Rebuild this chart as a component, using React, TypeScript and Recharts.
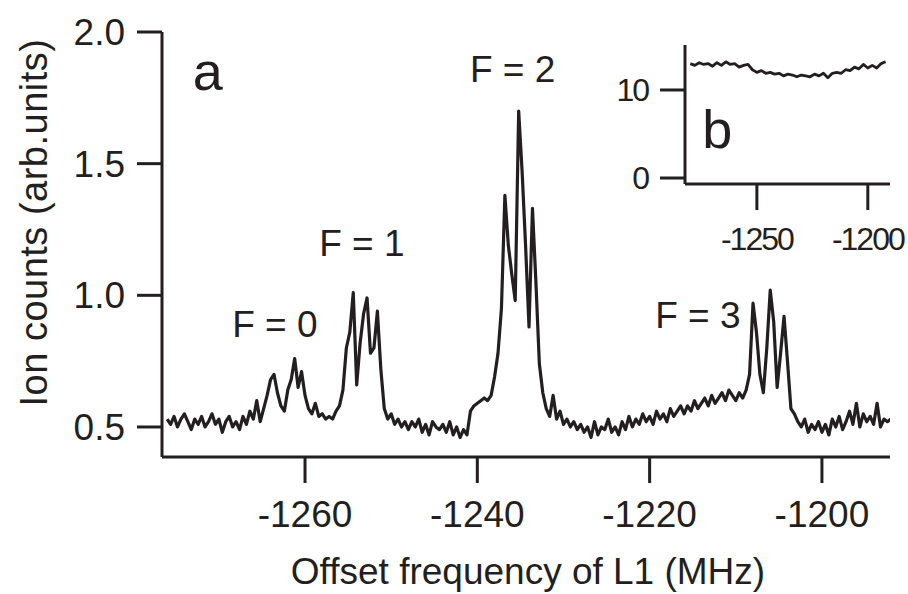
import React from 'react';
import { LineChart, Line, XAxis, YAxis, ReferenceDot } from 'recharts';

const INK = '#231f20';
const FONT = '"Liberation Sans", Arial, Helvetica, sans-serif';

// main trace (panel a): sampled every 0.4 MHz starting at -1276 MHz
const FREQ_START = -1276;
const FREQ_STEP = 0.4;
const ionCounts = [
  0.53, 0.51, 0.54, 0.50, 0.53, 0.55, 0.52, 0.49, 0.53, 0.51,
  0.54, 0.50, 0.52, 0.55, 0.51, 0.53, 0.48, 0.52, 0.54, 0.50,
  0.52, 0.49, 0.54, 0.51, 0.56, 0.53, 0.60, 0.52, 0.57, 0.62,
  0.68, 0.70, 0.63, 0.58, 0.56, 0.64, 0.68, 0.76, 0.65, 0.71,
  0.62, 0.57, 0.55, 0.59, 0.54, 0.55, 0.53, 0.54, 0.53, 0.56,
  0.58, 0.64, 0.80, 0.86, 1.01, 0.66, 0.82, 0.93, 0.99, 0.78,
  0.80, 0.94, 0.72, 0.57, 0.53, 0.55, 0.51, 0.53, 0.50, 0.52,
  0.49, 0.52, 0.50, 0.53, 0.48, 0.51, 0.47, 0.52, 0.50, 0.49,
  0.51, 0.48, 0.52, 0.47, 0.50, 0.46, 0.49, 0.47, 0.56, 0.58,
  0.59, 0.60, 0.61, 0.60, 0.62, 0.69, 0.78, 0.95, 1.38, 1.19,
  1.08, 0.98, 1.70, 1.47, 1.19, 0.88, 1.33, 1.05, 0.74, 0.63,
  0.57, 0.54, 0.62, 0.53, 0.56, 0.51, 0.53, 0.50, 0.52, 0.49,
  0.51, 0.48, 0.50, 0.46, 0.52, 0.47, 0.50, 0.49, 0.53, 0.48,
  0.50, 0.47, 0.52, 0.49, 0.54, 0.50, 0.53, 0.51, 0.55, 0.52,
  0.54, 0.51, 0.56, 0.53, 0.55, 0.52, 0.57, 0.54, 0.56, 0.58,
  0.55, 0.58, 0.56, 0.60, 0.57, 0.59, 0.61, 0.58, 0.62, 0.59,
  0.61, 0.63, 0.60, 0.64, 0.62, 0.60, 0.63, 0.61, 0.64, 0.70,
  0.97, 0.86, 0.70, 0.63, 0.80, 1.02, 0.90, 0.65, 0.78, 0.92,
  0.75, 0.57, 0.55, 0.52, 0.50, 0.53, 0.48, 0.51, 0.49, 0.52,
  0.48, 0.51, 0.47, 0.53, 0.50, 0.54, 0.49, 0.52, 0.56, 0.51,
  0.59, 0.50, 0.55, 0.52, 0.54, 0.51, 0.59, 0.50, 0.53, 0.52, 0.53,
];
const mainTicksX = [-1260, -1240, -1220, -1200];
const mainTicksY = [0.5, 1.0, 1.5, 2.0];
const peakLabels = [
  { text: 'F = 0', freq: -1263.5, counts: 0.89 },
  { text: 'F = 1', freq: -1253.4, counts: 1.2 },
  { text: 'F = 2', freq: -1235.9, counts: 1.86 },
  { text: 'F = 3', freq: -1214.4, counts: 0.926 },
];

// inset (panel b): sampled every 2 MHz starting at -1280 MHz
const INSET_START = -1280;
const INSET_STEP = 2;
const insetCounts = [
  13.0, 12.8, 13.1, 12.9, 13.0, 12.7, 13.1, 12.8, 13.2, 12.9,
  13.0, 12.6, 12.8, 12.9, 12.3, 12.0, 12.2, 11.9, 12.0, 11.8,
  11.9, 11.6, 11.8, 11.7, 11.5, 11.7, 11.6, 11.5, 11.8, 11.6,
  11.9, 11.4, 11.9, 12.0, 11.9, 12.3, 12.2, 12.6, 12.4, 12.9,
  12.5, 12.8, 12.5, 13.0, 13.2,
];
const insetTicksX = [-1250, -1200];
const insetTicksY = [0, 10];

const mainData = ionCounts.map((v, i) => ({
  freq: +(FREQ_START + i * FREQ_STEP).toFixed(1),
  counts: v,
}));
const insetData = insetCounts.map((v, i) => ({
  freq: INSET_START + i * INSET_STEP,
  counts: v,
}));

const axisStyle = { stroke: INK, strokeWidth: 3 };

export default function App() {
  return (
    <div style={{ position: 'absolute', left: 0, top: 0, width: 908, height: 594, background: '#fff', fontFamily: FONT }}>
      <LineChart width={908} height={594} data={mainData} margin={{ top: 32, right: 18, left: 0, bottom: 0 }}>
        <XAxis
          dataKey="freq"
          type="number"
          domain={[-1276.6, -1192.1]}
          ticks={mainTicksX}
          allowDataOverflow
          height={137}
          axisLine={axisStyle}
          tickLine={axisStyle}
          tickSize={26}
          tickMargin={18}
          tick={{ fill: INK, fontSize: 37, fontFamily: FONT }}
        />
        <YAxis
          type="number"
          domain={[0.386, 2.0]}
          ticks={mainTicksY}
          allowDataOverflow
          width={162}
          axisLine={axisStyle}
          tickLine={axisStyle}
          tickSize={25}
          tickMargin={12}
          tickFormatter={(v: number) => v.toFixed(1)}
          tick={{ fill: INK, fontSize: 37, fontFamily: FONT }}
        />
        <Line
          dataKey="counts"
          stroke={INK}
          strokeWidth={3.2}
          dot={false}
          isAnimationActive={false}
          strokeLinejoin="round"
        />
        {peakLabels.map((p) => (
          <ReferenceDot
            key={p.text}
            x={p.freq}
            y={p.counts}
            r={0}
            fill="none"
            stroke="none"
            label={{ value: p.text, position: 'center', fill: INK, fontSize: 37, fontFamily: FONT }}
          />
        ))}
        <ReferenceDot
          x={-1271.3}
          y={1.854}
          r={0}
          fill="none"
          stroke="none"
          label={{ value: 'a', position: 'center', fill: INK, fontSize: 54, fontFamily: FONT }}
        />
      </LineChart>

      <div style={{ position: 'absolute', left: 560, top: 0 }}>
        <LineChart width={348} height={280} data={insetData} margin={{ top: 45, right: 18, left: 0, bottom: 0 }}>
          <XAxis
            dataKey="freq"
            type="number"
            domain={[-1282.4, -1190]}
            ticks={insetTicksX}
            allowDataOverflow
            height={96}
            axisLine={axisStyle}
            tickLine={axisStyle}
            tickSize={26}
            tickMargin={17}
            tick={{ fill: INK, fontSize: 32, fontFamily: FONT, letterSpacing: -2 }}
          />
          <YAxis
            type="number"
            domain={[-0.68, 15.11]}
            ticks={insetTicksY}
            allowDataOverflow
            width={125}
            axisLine={axisStyle}
            tickLine={axisStyle}
            tickSize={25}
            tickMargin={12}
            tick={{ fill: INK, fontSize: 32, fontFamily: FONT, letterSpacing: -2 }}
          />
          <Line
            dataKey="counts"
            stroke={INK}
            strokeWidth={2.8}
            dot={false}
            isAnimationActive={false}
            strokeLinejoin="round"
          />
          <ReferenceDot
            x={-1267.8}
            y={5.59}
            r={0}
            fill="none"
            stroke="none"
            label={{ value: 'b', position: 'center', fill: INK, fontSize: 54, fontFamily: FONT }}
          />
        </LineChart>
      </div>

      <svg width={908} height={594} style={{ position: 'absolute', left: 0, top: 0, pointerEvents: 'none' }}>
        <text x={528} y={584} textAnchor="middle" fill={INK} fontSize={37} fontFamily={FONT}>
          Offset frequency of L1 (MHz)
        </text>
        <text
          x={47}
          y={222.5}
          transform="rotate(-90 47 222.5)"
          textAnchor="middle"
          fill={INK}
          fontSize={38}
          letterSpacing={0.5}
          fontFamily={FONT}
        >
          Ion counts (arb.units)
        </text>
      </svg>
    </div>
  );
}
